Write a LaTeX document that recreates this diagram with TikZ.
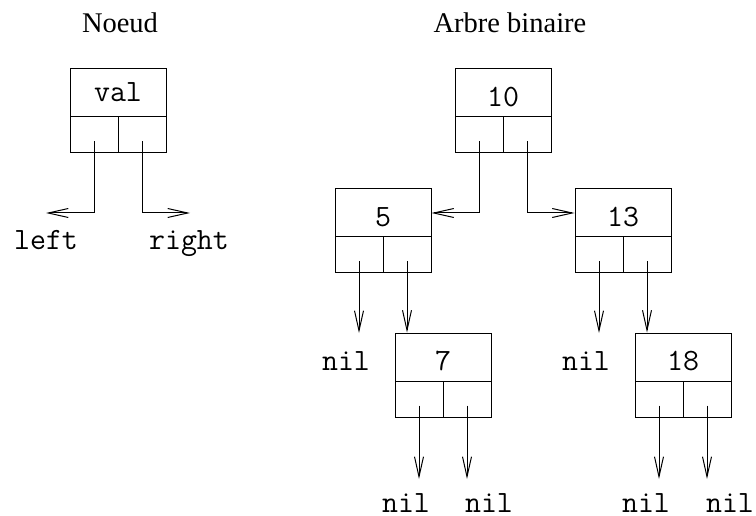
\documentclass[tikz,border=0pt]{standalone}
\usepackage{fontspec}
\setmainfont{Liberation Serif}
\usetikzlibrary{arrows.meta}
\begin{document}
\begin{tikzpicture}[x=1pt,y=-1pt,line width=1pt,
  topcell/.style={draw,rectangle,minimum width=96pt,minimum height=48pt,inner sep=0pt,
     font=\fontsize{31}{33}\selectfont\ttfamily,text height=27pt,text depth=0pt},
  subcell/.style={draw,rectangle,minimum width=48pt,minimum height=36pt,inner sep=0pt},
  ptr/.style={-{Straight Barb[length=20pt,width=9pt,line width=1pt]}},
  lbl/.style={anchor=base,inner sep=0pt,font=\fontsize{31}{33}\selectfont\ttfamily},
  ttl/.style={anchor=base,inner sep=0pt,font=\fontsize{28.5}{30}\selectfont}]
\useasboundingbox (0,0) rectangle (756,516);
% titles
\node[ttl] (tNoeud) at (120,33) {Noeud};
\node[ttl] (tArbre) at (510,33) {Arbre binaire};
% Noeud record
\node[topcell,text height=18pt] (nv) at (118,93) {val};
\node[subcell] (nvl) at (94,135) {};
\node[subcell] (nvr) at (142,135) {};
\coordinate (cl) at (46,213);
\coordinate (cr) at (190,213);
\node[lbl] (lleft) at (46,250) {left};
\node[lbl] (lright) at (189,250) {right};
\draw[ptr] ([yshift=12pt]nvl.south) |- (cl);
\draw[ptr] ([yshift=12pt]nvr.south) |- (cr);
% records of the tree
\foreach \n/\x/\y/\t in {a/503/93/10, b/383/213/5, c/623/213/13, d/443/357/7, e/683/357/18}{
  \node[topcell] (n\n) at (\x,\y) {\t};
  \node[subcell] (n\n l) at (\x-24,\y+42) {};
  \node[subcell] (n\n r) at (\x+24,\y+42) {};
}
% 10 -> 5, 13
\draw[ptr] ([yshift=12pt]nal.south) |- (nb.east);
\draw[ptr] ([yshift=12pt]nar.south) |- (nc.west);
% 5
\coordinate (tbl) at (359,333);
\draw[ptr] ([yshift=12pt]nbl.south) -- (tbl);
\draw[ptr] ([yshift=12pt]nbr.south) -- (nbr |- nd.north);
\node[lbl] (nil1) at (346,370) {nil};
% 13
\coordinate (tcl) at (599,333);
\draw[ptr] ([yshift=12pt]ncl.south) -- (tcl);
\draw[ptr] ([yshift=12pt]ncr.south) -- (ncr |- ne.north);
\node[lbl] (nil2) at (586,370) {nil};
% 7
\coordinate (tdl) at (419,479);
\coordinate (tdr) at (467,479);
\draw[ptr] ([yshift=12pt]ndl.south) -- (tdl);
\draw[ptr] ([yshift=12pt]ndr.south) -- (tdr);
\node[lbl] (nil3) at (406,512) {nil};
\node[lbl] (nil4) at (489,512) {nil};
% 18
\coordinate (tel) at (659,479);
\coordinate (ter) at (707,479);
\draw[ptr] ([yshift=12pt]nel.south) -- (tel);
\draw[ptr] ([yshift=12pt]ner.south) -- (ter);
\node[lbl] (nil5) at (646,512) {nil};
\node[lbl] (nil6) at (730,512) {nil};
\end{tikzpicture}
\end{document}
